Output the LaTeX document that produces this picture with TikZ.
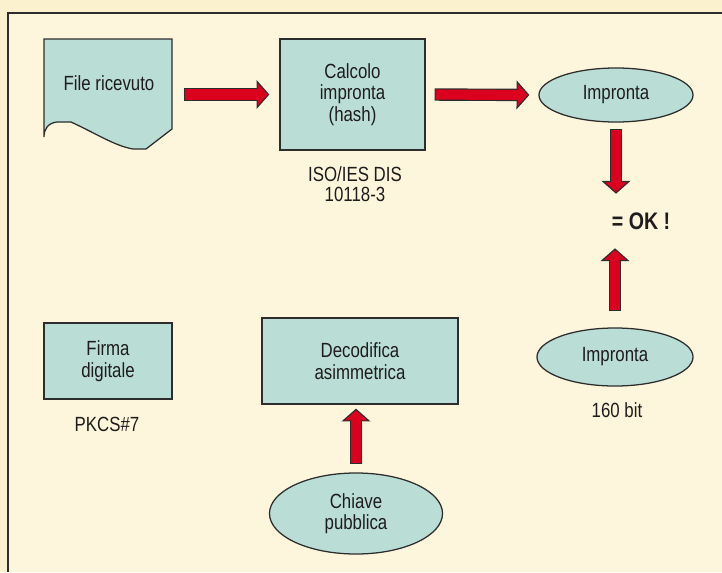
\documentclass[tikz,border=0pt]{standalone}
\usepackage{fontspec}
\setmainfont{Liberation Sans}[FakeStretch=0.82]
\usepackage{tikz}
\usetikzlibrary{arrows.meta, positioning, shapes.geometric}

\definecolor{bgout}{RGB}{252,241,206}
\definecolor{bgin}{RGB}{254,246,220}
\definecolor{boxfill}{RGB}{186,222,214}
\definecolor{boxline}{RGB}{45,45,45}
\definecolor{arrowred}{RGB}{218,0,30}
\definecolor{textcol}{RGB}{30,28,28}

\begin{document}
\begin{tikzpicture}[
  x=0.025cm, y=-0.025cm,
  box/.style={draw=boxline, fill=boxfill, line width=0.9pt, align=center,
    inner sep=0pt, text=textcol, font=\fontsize{14.6}{15.2}\selectfont},
  oval/.style={box, ellipse},
  note/.style={align=center, inner sep=0pt, text=textcol, font=\fontsize{14.6}{15.2}\selectfont},
  fatout/.style={draw=boxline, line width=8.8pt,
    -{Triangle[length=0.32cm, width=0.72cm, fill=arrowred, line width=0.8pt]}},
  fatin/.style={draw=arrowred, line width=7.2pt},
]
% background and frame
\fill[bgout] (0,0) rectangle (722,572);
\useasboundingbox (0,0) rectangle (722,572);
\fill[bgin] (8,13) rectangle (722,572);
\draw[boxline, line width=1.3pt] (8,572) -- (8,13) -- (722,13);

% received file (document shape)
\filldraw[fill=boxfill, draw=boxline, line width=0.9pt]
  (44,39) -- (172,39) -- (172,129) -- (146,149) -- (133,149)
  .. controls (115,146) and (95,133) .. (71,122) -- (57,122)
  .. controls (48,123) and (44,129) .. (44,137) -- cycle;
\node[note, minimum width=3.2cm] (file) at (109,83) {File ricevuto};

\node[box, minimum width=3.625cm, minimum height=2.775cm] (calc) at (352.5,94.5) {Calcolo\\impronta\\(hash)};
\node[note] (iso) at (355,184) {ISO/IES DIS\\[-1pt]10118-3};
\node[oval, minimum width=3.85cm, minimum height=1.35cm] (imp1) at (616,95) {Impronta};

\node[note, font=\fontsize{17}{18}\selectfont\bfseries, minimum height=1.35cm] (ok) at (641,221) {= OK !};

\node[box, minimum width=3.2cm, minimum height=1.9cm] (firma) at (108,361) {Firma\\digitale};
\node[note] (pkcs) at (107,424) {PKCS\#7};
\node[box, minimum width=4.9cm, minimum height=2.15cm] (dec) at (360,361) {Decodifica\\asimmetrica};
\node[oval, minimum width=4.325cm, minimum height=2.025cm] (chiave) at (356,513.5) {Chiave\\pubblica};
\node[oval, minimum width=3.9cm, minimum height=1.45cm] (imp2) at (615,357) {Impronta};
\node[note] (bits) at (617,410) {160 bit};

% fat arrows
\draw[fatout, shorten <=0.275cm, shorten >=0.25cm] (file.east |- calc.west) -- (calc.west);
\draw[fatin, shorten <=0.3cm, shorten >=0.53cm] (file.east |- calc.west) -- (calc.west);
\draw[fatout, shorten <=0.225cm, shorten >=0.225cm] (calc.east) -- (imp1.west);
\draw[fatin, shorten <=0.25cm, shorten >=0.5cm] (calc.east) -- (imp1.west);
\draw[fatout, shorten <=0.15cm] (imp1.south) -- (imp1.south |- ok.north);
\draw[fatin, shorten <=0.175cm, shorten >=0.28cm] (imp1.south) -- (imp1.south |- ok.north);
\draw[fatout, shorten <=0.4cm] (imp2.north) -- (imp2.north |- ok.south);
\draw[fatin, shorten <=0.425cm, shorten >=0.28cm] (imp2.north) -- (imp2.north |- ok.south);
\draw[fatout, shorten <=0.2cm, shorten >=0.1cm] (chiave.north) -- (chiave.north |- dec.south);
\draw[fatin, shorten <=0.225cm, shorten >=0.38cm] (chiave.north) -- (chiave.north |- dec.south);
\end{tikzpicture}
\end{document}
